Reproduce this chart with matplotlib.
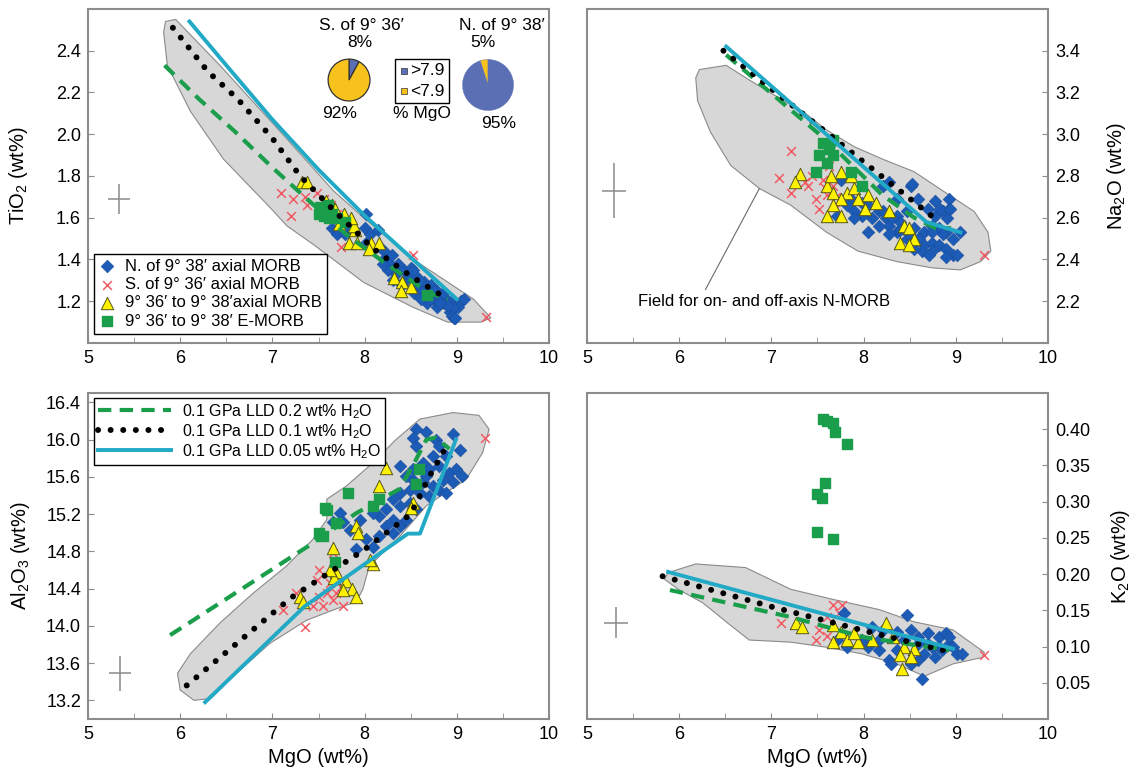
import matplotlib.pyplot as plt
from matplotlib.patches import Polygon, Rectangle

plt.rcParams['font.family'] = ['Liberation Sans', 'DejaVu Sans']
plt.rcParams['mathtext.fontset'] = 'custom'
plt.rcParams['mathtext.rm'] = 'Liberation Sans'
plt.rcParams['mathtext.it'] = 'Liberation Sans:italic'

BLUE = '#1d5cb6'
RED = '#f25a64'
YELLOW = '#fff200'
GREEN = '#1b9e4b'
CYAN = '#21a9c6'
PIE_BLUE = '#5b6fb5'
PIE_YELLOW = '#f7c21b'
SPINE = '#8c8c8c'

# ---------------- TiO2 vs MgO ----------------
ti_field_x = [5.95, 6.43, 7.09, 7.66, 7.99, 8.53, 9.18, 9.37, 9.26, 8.90, 8.53, 7.99, 7.45, 7.16, 6.95, 6.47, 6.11, 5.86, 5.82, 5.84]
ti_field_y = [2.55, 2.33, 2.01, 1.73, 1.60, 1.40, 1.21, 1.12, 1.10, 1.10, 1.17, 1.29, 1.47, 1.56, 1.66, 1.88, 2.11, 2.33, 2.49, 2.54]
ti_north_x = [7.65, 7.70, 7.79, 7.81, 8.00, 8.06, 8.01, 8.14, 8.17, 8.23, 8.01, 8.21, 8.28, 8.25, 8.36, 8.34, 8.43, 8.46, 8.54, 8.41,
              8.57, 8.64, 8.68, 8.79, 8.86, 8.95, 9.04, 9.01, 8.93, 8.97, 8.79, 8.68, 8.61, 8.54, 8.86, 8.75, 9.08, 8.30, 8.50, 8.72,
              8.53, 8.60, 8.64, 8.75, 8.85, 8.96, 8.89, 8.95, 8.98, 8.82, 8.71, 8.42, 8.31, 8.20]
ti_north_y = [1.55, 1.52, 1.52, 1.56, 1.55, 1.52, 1.62, 1.54, 1.46, 1.43, 1.48, 1.40, 1.38, 1.35, 1.38, 1.33, 1.35, 1.31, 1.33, 1.28,
              1.27, 1.29, 1.24, 1.25, 1.22, 1.20, 1.20, 1.17, 1.15, 1.12, 1.17, 1.19, 1.21, 1.24, 1.19, 1.21, 1.21, 1.42, 1.36, 1.28,
              1.35, 1.30, 1.25, 1.25, 1.24, 1.17, 1.18, 1.13, 1.12, 1.19, 1.21, 1.29, 1.30, 1.38]
ti_south_x = [7.09, 7.22, 7.20, 7.35, 7.37, 7.48, 7.74, 7.63, 7.70, 7.77, 7.56, 8.53, 9.32, 7.82]
ti_south_y = [1.72, 1.69, 1.61, 1.70, 1.66, 1.72, 1.46, 1.66, 1.62, 1.59, 1.69, 1.42, 1.125, 1.58]
ti_axial_x = [7.32, 7.38, 7.65, 7.68, 7.78, 7.72, 7.90, 7.88, 7.83, 7.92, 8.07, 8.16, 8.05, 8.32, 8.41, 8.50, 8.39, 7.58, 7.85]
ti_axial_y = [1.77, 1.77, 1.66, 1.64, 1.62, 1.57, 1.54, 1.56, 1.48, 1.48, 1.48, 1.48, 1.45, 1.31, 1.29, 1.27, 1.25, 1.68, 1.60]
ti_emorb_x = [7.52, 7.58, 7.56, 7.65, 7.61, 7.70, 7.50, 7.60, 7.79, 8.68]
ti_emorb_y = [1.65, 1.64, 1.61, 1.62, 1.60, 1.60, 1.62, 1.66, 1.58, 1.23]
ti_lld02_x = [5.83, 6.2, 6.6, 7.0, 7.4, 7.8, 8.2, 8.7, 8.9]
ti_lld02_y = [2.33, 2.17, 2.01, 1.84, 1.68, 1.52, 1.39, 1.24, 1.21]
ti_lld01_x = [5.92, 6.3, 6.62, 7.0, 7.3, 7.7, 8.1, 8.5, 8.9]
ti_lld01_y = [2.51, 2.30, 2.17, 1.98, 1.80, 1.62, 1.45, 1.32, 1.21]
ti_lld005_x = [6.1, 6.5, 7.0, 7.5, 8.0, 8.5, 9.0]
ti_lld005_y = [2.54, 2.33, 2.07, 1.83, 1.61, 1.41, 1.21]
ti_err = [5.34, 1.69, 0.12, 0.07]

# MgO split of the axial samples (percent)
south_split = [8, 92]   # >7.9, <7.9
north_split = [95, 5]   # >7.9, <7.9

# ---------------- Na2O vs MgO ----------------
na_field_x = [6.22, 6.51, 6.76, 7.06, 7.37, 7.60, 7.90, 8.21, 8.55, 8.89, 9.20, 9.35, 9.38, 9.27, 9.05, 8.74, 8.36, 7.94,
              7.60, 7.21, 6.87, 6.56, 6.34, 6.20, 6.18]
na_field_y = [3.31, 3.33, 3.26, 3.18, 3.10, 3.02, 2.94, 2.88, 2.82, 2.72, 2.63, 2.53, 2.44, 2.39, 2.35, 2.36, 2.39, 2.44,
              2.53, 2.66, 2.74, 2.85, 3.01, 3.16, 3.27]
na_north_x = [7.75, 7.86, 7.98, 8.05, 8.17, 8.21, 8.28, 8.36, 8.24, 8.36, 8.47, 8.51, 8.59, 8.70, 8.78, 8.86, 8.93, 8.91,
              9.05, 8.97, 8.89, 8.82, 8.74, 8.66, 8.59, 8.66, 8.74, 8.82, 8.89, 8.97, 8.74, 8.63, 8.55, 8.47, 8.36, 8.28,
              8.17, 8.09, 7.98, 7.90, 7.82, 7.90, 8.05, 8.55, 8.40, 8.74, 8.86, 8.93, 8.78, 8.28, 8.89, 7.71, 8.53, 8.83,
              8.94, 9.01, 8.71, 8.60, 8.49, 8.39, 8.31, 8.21]
na_north_y = [2.78, 2.69, 2.67, 2.66, 2.63, 2.75, 2.77, 2.69, 2.60, 2.61, 2.63, 2.75, 2.69, 2.64, 2.61, 2.63, 2.64, 2.60,
              2.53, 2.50, 2.53, 2.55, 2.56, 2.53, 2.50, 2.47, 2.48, 2.47, 2.45, 2.42, 2.44, 2.44, 2.45, 2.50, 2.53, 2.56,
              2.56, 2.60, 2.61, 2.63, 2.66, 2.60, 2.53, 2.55, 2.58, 2.53, 2.52, 2.69, 2.68, 2.52, 2.41, 2.61, 2.76, 2.64,
              2.64, 2.42, 2.42, 2.50, 2.52, 2.54, 2.60, 2.63]
na_south_x = [7.21, 7.08, 7.21, 7.40, 7.48, 7.56, 7.60, 7.52, 7.67, 7.63, 7.44, 7.75, 9.31, 7.36, 7.58, 7.70]
na_south_y = [2.92, 2.79, 2.72, 2.75, 2.69, 2.78, 2.71, 2.64, 2.75, 2.85, 2.80, 2.67, 2.42, 2.77, 2.74, 2.70]
na_axial_x = [7.31, 7.26, 7.60, 7.76, 7.67, 7.82, 7.75, 7.67, 7.60, 7.75, 7.90, 7.94, 8.05, 8.13, 8.02, 7.86, 8.28,
              8.44, 8.49, 8.55, 8.40, 8.49, 7.65]
na_axial_y = [2.81, 2.77, 2.75, 2.82, 2.72, 2.72, 2.69, 2.66, 2.61, 2.61, 2.74, 2.69, 2.71, 2.67, 2.64, 2.80, 2.63,
              2.56, 2.55, 2.50, 2.48, 2.47, 2.80]
na_emorb_x = [7.56, 7.63, 7.52, 7.67, 7.60, 7.48, 7.67, 7.86, 7.98]
na_emorb_y = [2.96, 2.93, 2.90, 2.90, 2.86, 2.82, 2.97, 2.82, 2.75]
na_lld02_x = [6.51, 7.6, 8.2, 8.55, 8.78, 8.95]
na_lld02_y = [3.38, 2.97, 2.71, 2.60, 2.55, 2.55]
na_lld01_x = [6.48, 8.82]
na_lld01_y = [3.40, 2.58]
na_lld005_x = [6.51, 8.68, 9.05]
na_lld005_y = [3.42, 2.58, 2.53]
na_err = [5.29, 2.73, 0.13, 0.13]

# ---------------- Al2O3 vs MgO ----------------
al_field_x = [5.97, 6.00, 6.15, 6.33, 6.61, 6.97, 7.37, 7.66, 7.91, 7.98, 8.05, 8.38, 8.67, 8.88, 9.10, 9.28, 9.35, 9.24,
              8.96, 8.60, 8.34, 8.09, 7.80, 7.59, 7.59, 7.44, 7.15, 6.79, 6.43, 6.11]
al_field_y = [13.49, 13.31, 13.20, 13.22, 13.49, 13.81, 14.06, 14.17, 14.26, 14.39, 14.64, 14.96, 15.29, 15.43, 15.57,
              15.86, 16.11, 16.26, 16.29, 16.22, 16.00, 15.75, 15.50, 15.36, 15.14, 14.93, 14.64, 14.35, 14.03, 13.70]
al_north_x = [8.56, 8.67, 8.77, 8.81, 8.96, 8.52, 8.88, 8.74, 8.63, 8.52, 8.70, 8.81, 8.92, 9.06, 8.96, 8.85, 8.74, 8.63,
              8.52, 8.45, 8.49, 8.60, 8.70, 8.81, 8.88, 8.38, 8.31, 8.38, 8.49, 8.23, 8.16, 8.31, 8.38, 8.23, 8.45, 8.09,
              8.02, 8.09, 7.73, 7.77, 7.84, 7.66, 7.95, 8.16, 8.56, 8.67, 8.99, 9.03, 8.38, 8.56, 8.31, 7.91]
al_north_y = [16.11, 16.08, 16.00, 15.93, 16.06, 16.02, 15.82, 15.82, 15.75, 15.68, 15.68, 15.72, 15.64, 15.61, 15.54,
              15.57, 15.50, 15.54, 15.57, 15.61, 15.46, 15.43, 15.39, 15.46, 15.43, 15.43, 15.36, 15.29, 15.32, 15.25,
              15.18, 15.14, 15.07, 15.07, 15.14, 15.21, 14.93, 14.85, 15.21, 15.11, 15.03, 15.11, 15.14, 14.96, 15.93,
              15.61, 15.68, 15.89, 15.72, 15.25, 15.00, 14.82]
al_south_x = [9.31, 7.35, 7.51, 7.48, 7.59, 7.66, 7.69, 7.62, 7.74, 7.51, 7.44, 7.26, 7.12, 7.66, 7.77, 7.55]
al_south_y = [16.02, 13.99, 14.60, 14.49, 14.35, 14.28, 14.35, 14.46, 14.42, 14.31, 14.21, 14.35, 14.17, 14.78, 14.21, 14.21]
al_axial_x = [8.23, 8.16, 7.91, 7.93, 7.66, 7.69, 7.67, 7.80, 7.86, 7.91, 7.77, 7.30, 7.33, 8.09, 8.06, 8.52, 8.50, 7.62]
al_axial_y = [15.70, 15.50, 15.07, 15.00, 14.84, 14.58, 14.51, 14.48, 14.40, 14.31, 14.39, 14.31, 14.26, 14.66, 14.71,
              15.32, 15.27, 14.60]
al_emorb_x = [7.82, 7.57, 7.59, 7.51, 7.55, 7.69, 7.68, 8.09, 8.16, 8.56, 8.59]
al_emorb_y = [15.43, 15.27, 15.24, 15.00, 14.96, 15.10, 14.69, 15.29, 15.36, 15.52, 15.68]
al_lld02_x = [5.89, 7.41, 7.91, 8.38, 8.56, 8.67, 8.77, 8.92]
al_lld02_y = [13.90, 14.87, 15.21, 15.47, 15.79, 16.00, 16.02, 15.90]
al_lld01_x = [6.07, 7.2, 8.0, 8.5, 8.7, 8.9]
al_lld01_y = [13.36, 14.30, 14.82, 15.20, 15.60, 15.95]
al_lld005_x = [6.27, 7.35, 8.47, 8.60, 8.99]
al_lld005_y = [13.18, 14.21, 14.99, 14.99, 16.00]
al_err = [5.35, 13.49, 0.12, 0.19]

# ---------------- K2O vs MgO ----------------
k_field_x = [5.88, 6.18, 6.72, 7.21, 7.67, 8.17, 8.55, 8.97, 9.31, 9.29, 8.97, 8.66, 8.36, 7.98, 7.60, 7.21, 6.76,
             6.53, 6.26, 5.99, 5.84]
k_field_y = [0.202, 0.214, 0.209, 0.179, 0.165, 0.151, 0.134, 0.123, 0.092, 0.085, 0.076, 0.059, 0.076, 0.090, 0.099,
             0.106, 0.109, 0.132, 0.160, 0.179, 0.193]
k_north_x = [7.79, 8.47, 8.63, 8.09, 8.21, 8.36, 8.51, 8.59, 8.70, 8.82, 8.89, 8.93, 9.01, 9.07, 8.85, 8.74, 8.66,
             8.59, 8.51, 8.28, 8.30, 8.17, 8.05, 7.98, 7.71, 7.82, 8.17, 8.36, 8.70, 8.82, 8.93, 8.97, 8.78, 8.59, 8.44]
k_north_y = [0.146, 0.144, 0.055, 0.127, 0.123, 0.120, 0.123, 0.113, 0.118, 0.113, 0.118, 0.104, 0.090, 0.090, 0.095,
             0.099, 0.090, 0.081, 0.076, 0.081, 0.076, 0.095, 0.099, 0.109, 0.109, 0.099, 0.109, 0.095, 0.104, 0.099,
             0.113, 0.099, 0.085, 0.104, 0.109]
k_south_x = [7.10, 7.67, 7.77, 7.73, 7.52, 7.60, 7.48, 9.31, 7.60]
k_south_y = [0.132, 0.158, 0.158, 0.146, 0.123, 0.114, 0.109, 0.088, 0.141]
k_axial_x = [7.27, 7.33, 7.67, 7.75, 7.67, 7.82, 7.94, 8.09, 8.24, 8.32, 8.44, 8.55, 8.51, 8.40, 8.42, 7.90]
k_axial_y = [0.132, 0.127, 0.130, 0.120, 0.106, 0.109, 0.106, 0.109, 0.132, 0.113, 0.099, 0.097, 0.085, 0.088, 0.069, 0.118]
k_emorb_x = [7.56, 7.60, 7.67, 7.69, 7.82, 7.58, 7.50, 7.55, 7.49, 7.67]
k_emorb_y = [0.414, 0.412, 0.408, 0.396, 0.379, 0.326, 0.310, 0.305, 0.258, 0.249]
k_lld02_x = [5.90, 7.2, 8.0, 8.93]
k_lld02_y = [0.178, 0.141, 0.113, 0.095]
k_lld01_x = [5.82, 7.0, 8.0, 8.99]
k_lld01_y = [0.197, 0.155, 0.122, 0.091]
k_lld005_x = [5.88, 8.97]
k_lld005_y = [0.203, 0.097]
k_err = [5.32, 0.133, 0.13, 0.021]


def draw_panel(ax, field, north, south, axial, emorb, lld02, lld01, lld005, err):
    ax.add_patch(Polygon(list(zip(*field)), closed=True, facecolor='#d7d7d7',
                         edgecolor='#8a8a8a', lw=0.8, zorder=1))
    ax.errorbar(err[0], err[1], xerr=err[2], yerr=err[3], fmt='none',
                ecolor='#8a8a8a', elinewidth=1.1, capsize=0, zorder=2)
    s_s = ax.scatter(*south, marker='x', s=40, color=RED, linewidths=1.1, zorder=3,
                     label='S. of 9° 36′ axial MORB')
    s_n = ax.scatter(*north, marker='D', s=42, color=BLUE, edgecolors='#184c9c', linewidths=0.4,
                     zorder=4, label='N. of 9° 38′ axial MORB')
    s_a = ax.scatter(*axial, marker='^', s=80, color=YELLOW, edgecolors='#55551a', linewidths=0.7,
                     zorder=5, label='9° 36′ to 9° 38′axial MORB')
    s_e = ax.scatter(*emorb, marker='s', s=45, color=GREEN, edgecolors=GREEN, zorder=5,
                     label='9° 36′ to 9° 38′ E-MORB')
    l1, = ax.plot(*lld02, color=GREEN, lw=3.0, dashes=(3.2, 2.0), zorder=6,
                  label='0.1 GPa LLD 0.2 wt% H$_2$O')
    l2, = ax.plot(*lld01, color='black', lw=4.3, dashes=(0.01, 2.1),
                  dash_capstyle='round', zorder=6, label='0.1 GPa LLD 0.1 wt% H$_2$O')
    l3, = ax.plot(*lld005, color=CYAN, lw=2.8, zorder=7, label='0.1 GPa LLD 0.05 wt% H$_2$O')

    ax.set_xlim(5, 10)
    ax.set_xticks([5, 6, 7, 8, 9, 10])
    ax.set_xticks([5.5, 6.5, 7.5, 8.5, 9.5], minor=True)
    ax.tick_params(axis='both', which='both', direction='in', length=4, color=SPINE,
                   labelsize=13, pad=5)
    for sp in ax.spines.values():
        sp.set_color(SPINE)
        sp.set_linewidth(1.5)
    return [s_n, s_s, s_a, s_e], [l1, l2, l3]


fig = plt.figure(figsize=(11.36, 7.73), dpi=100)
ax_ti = fig.add_axes([0.0775, 0.5563, 0.4058, 0.4321])
ax_na = fig.add_axes([0.5167, 0.5563, 0.4058, 0.4321])
ax_al = fig.add_axes([0.0775, 0.0699, 0.4058, 0.4217])
ax_k = fig.add_axes([0.5167, 0.0699, 0.4058, 0.4217])

sample_marks, _ = draw_panel(ax_ti, (ti_field_x, ti_field_y), (ti_north_x, ti_north_y),
                             (ti_south_x, ti_south_y), (ti_axial_x, ti_axial_y),
                             (ti_emorb_x, ti_emorb_y), (ti_lld02_x, ti_lld02_y),
                             (ti_lld01_x, ti_lld01_y), (ti_lld005_x, ti_lld005_y), ti_err)
draw_panel(ax_na, (na_field_x, na_field_y), (na_north_x, na_north_y), (na_south_x, na_south_y),
           (na_axial_x, na_axial_y), (na_emorb_x, na_emorb_y), (na_lld02_x, na_lld02_y),
           (na_lld01_x, na_lld01_y), (na_lld005_x, na_lld005_y), na_err)
_, lld_lines = draw_panel(ax_al, (al_field_x, al_field_y), (al_north_x, al_north_y),
                          (al_south_x, al_south_y), (al_axial_x, al_axial_y),
                          (al_emorb_x, al_emorb_y), (al_lld02_x, al_lld02_y),
                          (al_lld01_x, al_lld01_y), (al_lld005_x, al_lld005_y), al_err)
draw_panel(ax_k, (k_field_x, k_field_y), (k_north_x, k_north_y), (k_south_x, k_south_y),
           (k_axial_x, k_axial_y), (k_emorb_x, k_emorb_y), (k_lld02_x, k_lld02_y),
           (k_lld01_x, k_lld01_y), (k_lld005_x, k_lld005_y), k_err)

# y axes
ax_ti.set_ylim(1.0, 2.6)
ax_ti.set_yticks([1.2, 1.4, 1.6, 1.8, 2.0, 2.2, 2.4])
ax_ti.set_ylabel('TiO$_2$ (wt%)', fontsize=14.5, labelpad=19)

ax_na.set_ylim(2.0, 3.6)
ax_na.set_yticks([2.2, 2.4, 2.6, 2.8, 3.0, 3.2, 3.4])
ax_na.yaxis.tick_right()
ax_na.yaxis.set_label_position('right')
ax_na.set_ylabel('Na$_2$O (wt%)', fontsize=14.5, labelpad=18)

ax_al.set_ylim(13.0, 16.5)
ax_al.set_yticks([13.2, 13.6, 14.0, 14.4, 14.8, 15.2, 15.6, 16.0, 16.4])
ax_al.set_ylabel('Al$_2$O$_3$ (wt%)', fontsize=14.5, labelpad=10)
ax_al.set_xlabel('MgO (wt%)', fontsize=14.5, labelpad=4)

ax_k.set_ylim(0.0, 0.45)
ax_k.set_yticks([0.05, 0.10, 0.15, 0.20, 0.25, 0.30, 0.35, 0.40])
ax_k.set_yticklabels([f'{v:.2f}' for v in ax_k.get_yticks()])
ax_k.yaxis.tick_right()
ax_k.yaxis.set_label_position('right')
ax_k.set_ylabel('K$_2$O (wt%)', fontsize=14.5, labelpad=14)
ax_k.set_xlabel('MgO (wt%)', fontsize=14.5, labelpad=4)

# sample legend
leg = ax_ti.legend(sample_marks, [h.get_label() for h in sample_marks],
                   loc='lower left', bbox_to_anchor=(0.012, 0.028), borderaxespad=0,
                   fontsize=12, fancybox=False, framealpha=1, edgecolor='black',
                   handlelength=1.0, handletextpad=0.6, labelspacing=0.2, borderpad=0.3,
                   scatterpoints=1)
leg.get_frame().set_linewidth(1.0)

# liquid line of descent legend
leg2 = ax_al.legend(lld_lines, [l.get_label() for l in lld_lines], loc='upper left',
                    bbox_to_anchor=(0.012, 0.985), borderaxespad=0, fontsize=11.5,
                    fancybox=False, framealpha=1, edgecolor='black', handlelength=4.6,
                    handletextpad=0.7, labelspacing=0.08, borderpad=0.25)
leg2.get_frame().set_linewidth(1.0)

# field label
ax_na.annotate('Field for on- and off-axis N-MORB', xy=(6.87, 2.74), xytext=(5.55, 2.20),
               fontsize=12, ha='left', va='center',
               arrowprops=dict(arrowstyle='-', color='#6a6a6a', lw=0.8,
                               relpos=(0.26, 1.0), shrinkA=1, shrinkB=0))

# pies of MgO split
pie_s = fig.add_axes([0.2879, 0.868, 0.0387, 0.0569])
pie_s.pie(south_split, colors=[PIE_BLUE, PIE_YELLOW], startangle=90, counterclock=False,
          wedgeprops=dict(edgecolor='#333333', linewidth=0.9))
pie_s.set_xlim(-1.05, 1.05)
pie_s.set_ylim(-1.05, 1.05)
pie_n = fig.add_axes([0.4067, 0.8564, 0.0458, 0.0673])
pie_n.pie(north_split[::-1], colors=[PIE_YELLOW, PIE_BLUE], startangle=90,
          wedgeprops=dict(edgecolor=PIE_BLUE, linewidth=0.3))
pie_n.set_xlim(-1.02, 1.02)
pie_n.set_ylim(-1.02, 1.02)

ax_ti.text(7.97, 2.52, 'S. of 9° 36′', ha='center', va='center', fontsize=12.5)
ax_ti.text(7.95, 2.44, f'{south_split[0]}%', ha='center', va='center', fontsize=12.5)
ax_ti.text(7.73, 2.10, f'{south_split[1]}%', ha='center', va='center', fontsize=12.5)
ax_ti.text(9.49, 2.52, 'N. of 9° 38′', ha='center', va='center', fontsize=12.5)
ax_ti.text(9.28, 2.44, f'{north_split[1]}%', ha='center', va='center', fontsize=12.5)
ax_ti.text(9.45, 2.05, f'{north_split[0]}%', ha='center', va='center', fontsize=12.5)
ax_ti.add_patch(Rectangle((8.33, 2.15), 0.59, 0.21, facecolor='white', edgecolor='black',
                          lw=1.0, zorder=8))
ax_ti.scatter([8.43], [2.305], marker='s', s=24, color=PIE_BLUE, edgecolors='#333', lw=0.5, zorder=9)
ax_ti.scatter([8.43], [2.205], marker='s', s=24, color=PIE_YELLOW, edgecolors='#333', lw=0.5, zorder=9)
ax_ti.text(8.49, 2.305, '>7.9', ha='left', va='center', fontsize=12.5, zorder=9)
ax_ti.text(8.49, 2.205, '<7.9', ha='left', va='center', fontsize=12.5, zorder=9)
ax_ti.text(8.62, 2.10, '% MgO', ha='center', va='center', fontsize=12.5)

plt.savefig('out.png', dpi=100)
